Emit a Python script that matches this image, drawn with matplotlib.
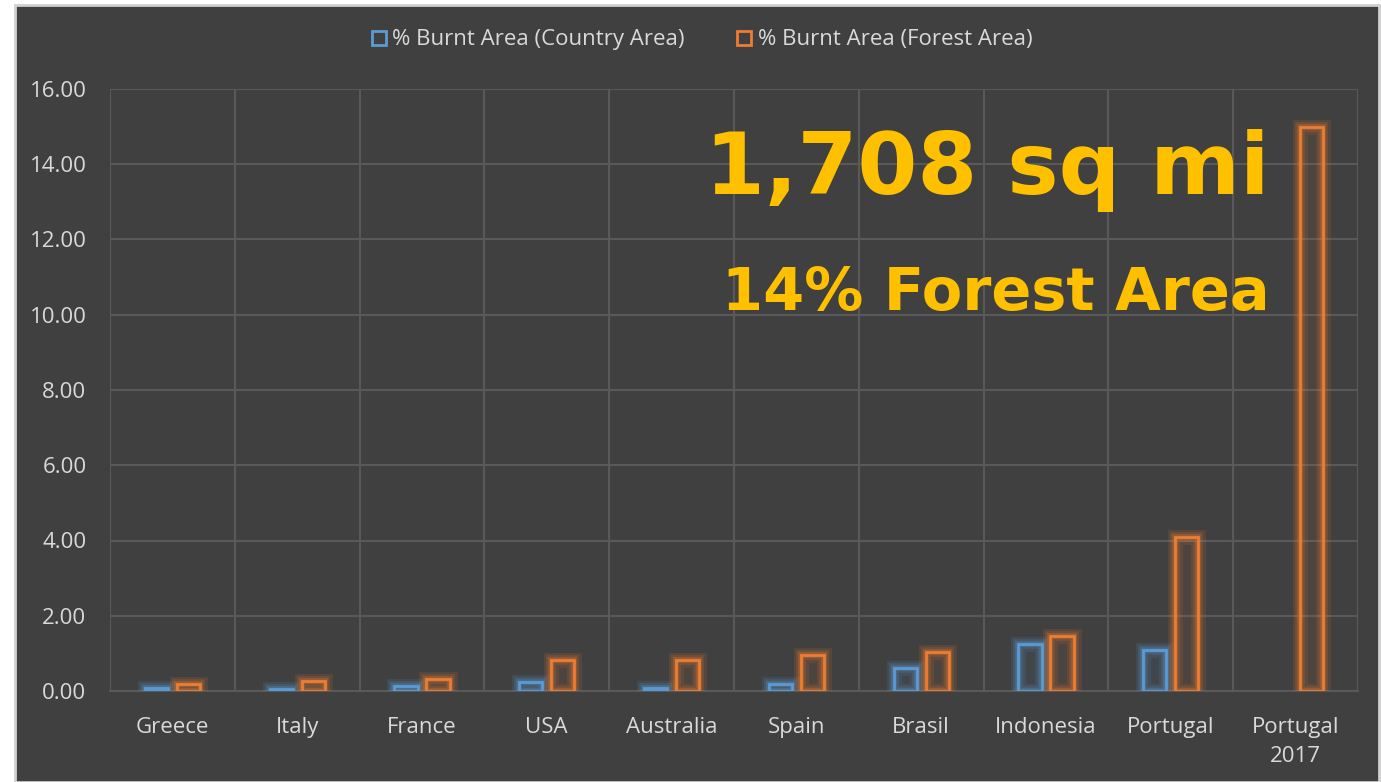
import matplotlib
matplotlib.use("Agg")
import matplotlib.pyplot as plt
import matplotlib.patheffects as pe
from matplotlib.patches import Rectangle
from matplotlib.lines import Line2D
import numpy as np

categories = ["Greece", "Italy", "France", "USA", "Australia", "Spain",
              "Brasil", "Indonesia", "Portugal", "Portugal\n2017"]
country_area = [0.08, 0.05, 0.12, 0.25, 0.07, 0.19, 0.60, 1.24, 1.08, 0.0]
forest_area = [0.18, 0.26, 0.33, 0.82, 0.82, 0.96, 1.03, 1.46, 4.08, 15.0]
series_names = ["% Burnt Area (Country Area)", "% Burnt Area (Forest Area)"]
yticks = [0, 2, 4, 6, 8, 10, 12, 14, 16]
annot_big = "1,708 sq mi"
annot_small = "14% Forest Area"

BG = "#404040"
GRID = "#595959"
TXT = "#D9D9D9"
BLUE = "#5B9BD5"
ORANGE = "#ED7D31"
GOLD = "#FFC000"
FONT = "Open Sans"
FS = 16

W, H = 1381, 782
fig = plt.figure(figsize=(W / 100, H / 100), dpi=100, facecolor="white")
fig.patches.append(Rectangle((15 / W, 0), (1379 - 15) / W, (H - 5) / H,
                             transform=fig.transFigure, facecolor=BG,
                             edgecolor="#D0D0D0", linewidth=2, zorder=-10))

ax = fig.add_axes([110 / W, (H - 691) / H, (1358 - 110) / W, (691 - 89) / H], zorder=1)
ax.set_facecolor(BG)
x = np.arange(len(categories))
bw = 0.185
off = 0.128


def glow(color):
    return [pe.Stroke(linewidth=11, foreground=color, alpha=0.12),
            pe.Stroke(linewidth=7, foreground=color, alpha=0.18),
            pe.Stroke(linewidth=4, foreground=color, alpha=0.3),
            pe.Normal()]


for xs, vals, col in [(x - off, country_area, BLUE), (x + off, forest_area, ORANGE)]:
    for xi, v in zip(xs, vals):
        if v <= 0:
            continue
        ax.bar(xi, v, width=bw, facecolor=matplotlib.colors.to_rgba(col, 0.07),
               edgecolor="none", linewidth=0, zorder=2.5)
        b = ax.bar(xi, v, width=bw, facecolor="none",
                   edgecolor=col, linewidth=2.0, zorder=3)
        for p in b.patches:
            p.set_path_effects(glow(col))

ax.set_xlim(-0.5, len(categories) - 0.5)
ax.set_ylim(0, 16)
ax.set_yticks(yticks)
ax.set_yticklabels([f"{v:.2f}" for v in yticks])
ax.set_xticks(x)
ax.set_xticklabels(categories)
ax.set_xticks(np.arange(-0.5, len(categories)), minor=True)
ax.grid(True, axis="y", which="major", color=GRID, linewidth=1.5, zorder=0)
ax.grid(True, axis="x", which="minor", color=GRID, linewidth=1.5, zorder=0)
ax.grid(False, axis="x", which="major")
ax.set_axisbelow(True)
for s in ["top", "right", "left"]:
    ax.spines[s].set_visible(False)
ax.spines["bottom"].set_color(GRID)
ax.spines["bottom"].set_linewidth(1.5)
ax.tick_params(axis="both", which="both", length=0, colors=TXT)
for lbl in ax.get_yticklabels() + ax.get_xticklabels():
    lbl.set_fontfamily(FONT)
    lbl.set_fontsize(FS)
    lbl.set_color(TXT)
for lbl in ax.get_xticklabels():
    lbl.set_linespacing(1.5)
ax.tick_params(axis="y", pad=17)
ax.tick_params(axis="x", pad=19)

handles = [Line2D([], [], marker="s", linestyle="none", markersize=10,
                  markerfacecolor="none", markeredgecolor=BLUE, markeredgewidth=2),
           Line2D([], [], marker="s", linestyle="none", markersize=10,
                  markerfacecolor="none", markeredgecolor=ORANGE, markeredgewidth=2)]
leg = fig.legend(handles, series_names, loc="center", bbox_to_anchor=(700 / W, 1 - 40 / H),
                 ncol=2, frameon=False, prop={"family": FONT, "size": FS},
                 labelcolor=TXT, handletextpad=0.1, columnspacing=2.2, handlelength=1.0)

ax.text(0.703, 0.864, annot_big, transform=ax.transAxes, ha="center", va="center",
        fontsize=62, fontweight="bold", color=GOLD, family="DejaVu Sans")
ax.text(0.710, 0.66, annot_small, transform=ax.transAxes, ha="center", va="center",
        fontsize=42.5, fontweight="bold", color=GOLD, family="DejaVu Sans")

fig.savefig("out.png", dpi=100, facecolor=fig.get_facecolor())
